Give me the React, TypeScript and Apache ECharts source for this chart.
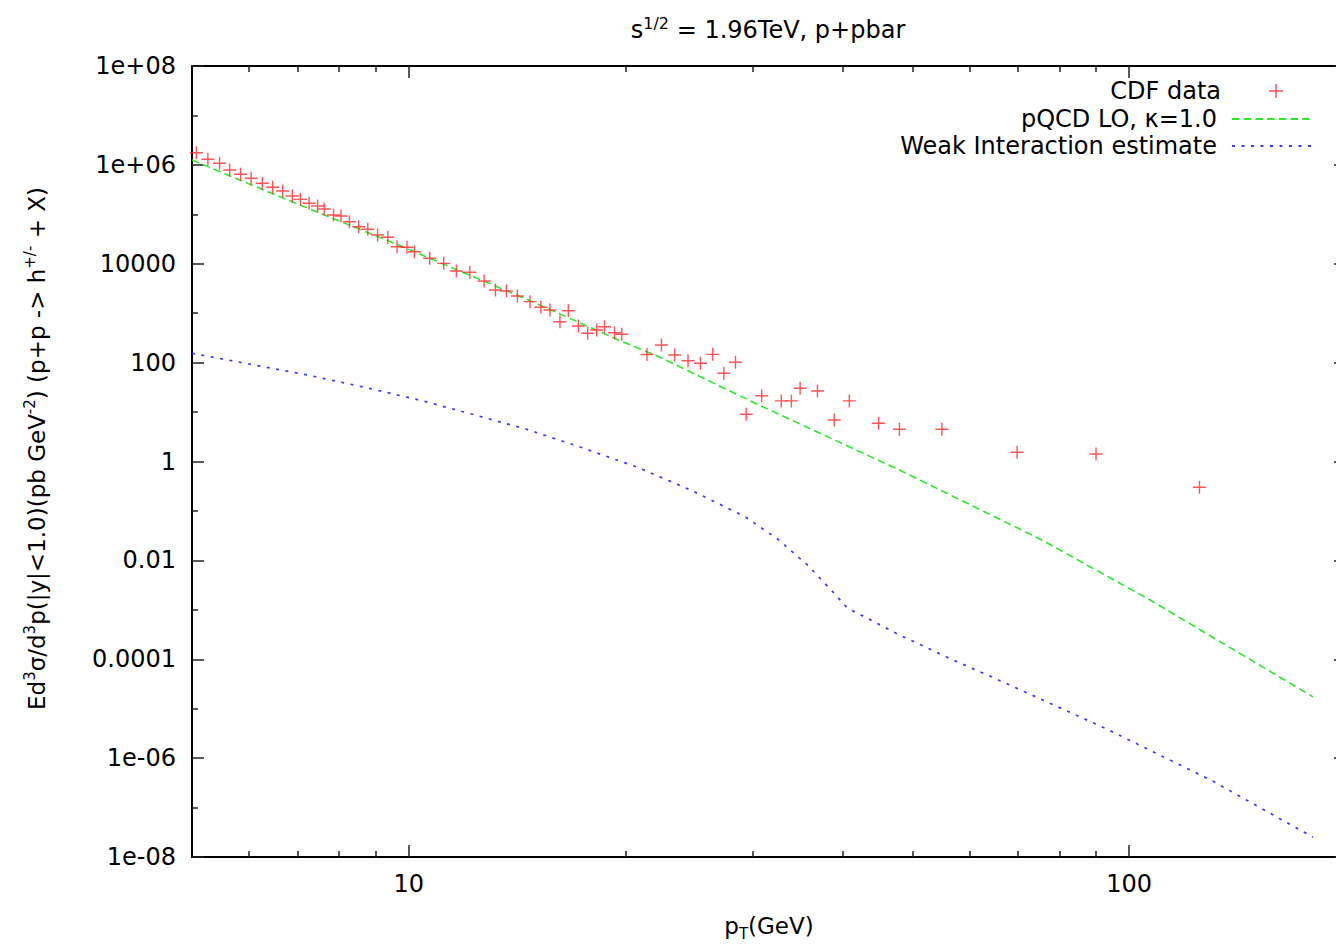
import React, { useEffect, useRef } from 'react';
import * as echarts from 'echarts';

// CDF data (p_T in GeV, cross section)
const cdfPt = [5.07, 5.26, 5.46, 5.64, 5.84, 6.04, 6.26, 6.47, 6.68, 6.89, 7.07, 7.27, 7.47, 7.63, 7.86, 8.05, 8.27, 8.52, 8.77, 9.05, 9.35, 9.63, 9.94, 10.18, 10.69, 11.18, 11.64, 12.15, 12.72, 13.19, 13.66, 14.15, 14.73, 15.25, 15.7, 16.21, 16.65, 17.19, 17.71, 18.23, 18.69, 19.3, 19.75, 21.41, 22.42, 23.39, 24.41, 25.4, 26.42, 27.37, 28.41, 29.4, 30.89, 32.89, 33.97, 34.93, 36.92, 38.95, 40.88, 44.89, 47.98, 54.95, 69.89, 89.95, 125.2];
const cdfValue = [1.76e6, 1.3e6, 1.08e6, 7.88e5, 6.45e5, 5.35e5, 4.24e5, 3.52e5, 2.96e5, 2.35e5, 2.01e5, 1.67e5, 1.47e5, 1.28e5, 9.69e4, 9.25e4, 7.09e4, 5.62e4, 4.98e4, 3.82e4, 3.43e4, 2.21e4, 2.15e4, 1.75e4, 1.29e4, 1.02e4, 7.14e3, 6.72e3, 4.48e3, 2.95e3, 2.81e3, 2.23e3, 1.71e3, 1.32e3, 1.16e3, 673, 1.12e3, 551, 392, 457, 533, 403, 374, 146, 227, 143, 109, 97, 147, 60.9, 102, 9.02, 21.4, 16.8, 16.8, 30.3, 26.7, 6.92, 16.8, 5.93, 4.48, 4.48, 1.54, 1.42, 0.301];

// pQCD LO curve
const pqcdPt = [5, 7, 9.75, 10.97, 14.65, 19.54, 22.23, 30.62, 47.97, 75.2, 106.9, 180];
const pqcdValue = [1.256e6, 1.62e5, 2.29e4, 1.1e4, 1.85e3, 287, 132, 13.9, 0.674, 0.0271, 1.58e-3, 1.73e-5];

// Weak interaction estimate curve
const weakPt = [5, 6.0, 7.23, 8.68, 10.46, 12.21, 14.57, 17.41, 20.84, 24.73, 29.28, 32.55, 35.76, 38.95, 40.66, 42.89, 47.98, 56.93, 64.04, 92.6, 129.7, 180];
const weakValue = [154.5, 93.9, 56.2, 31.7, 16.8, 9.15, 4.48, 1.9, 0.75, 0.257, 0.0766, 0.0267, 8.07e-3, 2.16e-3, 1.07e-3, 7.26e-4, 3.1e-4, 9.67e-5, 4.59e-5, 4.02e-6, 3.62e-7, 2.51e-8];

// Axis ticks
const xMajorTicks = [10, 100];
const xMajorLabels = ['10', '100'];
const xMinorTicks = [6, 7, 8, 9, 20, 30, 40, 50, 60, 70, 80, 90];
const yMajorTicks = [1e-8, 1e-6, 1e-4, 1e-2, 1, 1e2, 1e4, 1e6, 1e8];
const yMajorLabels = ['1e-08', '1e-06', '0.0001', '0.01', '1', '100', '10000', '1e+06', '1e+08'];
const yMinorTicks = [1e-7, 1e-5, 1e-3, 1e-1, 10, 1e3, 1e5, 1e7];

const seriesNames = ['CDF data', 'pQCD LO, \u03ba=1.0', 'Weak Interaction estimate'];

const FONT = "'DejaVu Sans', sans-serif";

function labelFor(ticks: number[], labels: string[], v: number): string {
  const i = ticks.findIndex((t) => Math.abs(Math.log10(t) - Math.log10(v)) < 1e-6);
  return i >= 0 ? labels[i] : '';
}

const rich = {
  b: { fontSize: 23, fontFamily: FONT, fontWeight: 'normal', color: '#000', lineHeight: 30 },
  sup: { fontSize: 15, fontFamily: FONT, fontWeight: 'normal', color: '#000', lineHeight: 14, verticalAlign: 'top' },
  sub: { fontSize: 15, fontFamily: FONT, fontWeight: 'normal', color: '#000', lineHeight: 14, verticalAlign: 'bottom' },
};

const richTitle = {
  b: { fontSize: 24, fontFamily: FONT, fontWeight: 'normal', color: '#000', lineHeight: 30 },
  sup: { fontSize: 16, fontFamily: FONT, fontWeight: 'normal', color: '#000', lineHeight: 14, verticalAlign: 'top' },
};

const PLUS = 'path://M0,12.5H28V15.5H0Z M12.5,0H15.5V28H12.5Z';

export default function App() {
  const ref = useRef<HTMLDivElement>(null);
  useEffect(() => {
    if (!ref.current) return;
    const chart = echarts.init(ref.current, null, { renderer: 'svg' });
    const frameLine = { show: true, onZero: false, lineStyle: { color: '#000', width: 2 } };
    const noLine = { show: false, onZero: false };
    const tickStyle = { color: '#222', width: 1.5 };
    const xBase = { type: 'log', logBase: 10, min: 5, max: 200, splitLine: { show: false }, minorTick: { show: false } };
    const yBase = { type: 'log', logBase: 10, min: 1e-8, max: 1e8, splitLine: { show: false }, minorTick: { show: false } };

    const legendTextStyle = { fontSize: 24, fontFamily: FONT, color: '#000', padding: [0, 10, 0, 0] };
    const legendCommon = {
      orient: 'horizontal',
      padding: 0,
      align: 'right',
      itemWidth: 80,
      itemHeight: 14,
      itemGap: 0,
      selectedMode: false,
      textStyle: legendTextStyle,
    };

    const option: any = {
      animation: false,
      backgroundColor: '#fff',
      title: {
        text: '{b|s}{sup|1/2}{b| = 1.96TeV, p+pbar}',
        left: 768,
        textAlign: 'center',
        top: 15,
        padding: 0,
        textStyle: { fontWeight: 'normal', rich: richTitle },
      },
      grid: { left: 192, right: -10, top: 66, bottom: 87, outerBoundsMode: 'none', containLabel: false },
      legend: [
        { ...legendCommon, data: [seriesNames[0]], right: 53, top: 79 },
        { ...legendCommon, data: [seriesNames[1]], right: 23, top: 107, itemStyle: { opacity: 0 } },
        { ...legendCommon, data: [seriesNames[2]], right: 23, top: 134, itemStyle: { opacity: 0 } },
      ],
      xAxis: [
        {
          ...xBase,
          position: 'bottom',
          axisLine: frameLine,
          axisTick: { inside: true, length: 12, customValues: xMajorTicks, lineStyle: tickStyle },
          axisLabel: {
            customValues: xMajorTicks,
            formatter: (v: number) => labelFor(xMajorTicks, xMajorLabels, v),
            fontSize: 24,
            fontFamily: FONT,
            color: '#000',
            margin: 15,
          },
          name: '{b|p}{sub|T}{b|(GeV)}',
          nameLocation: 'middle',
          nameGap: 54,
          nameTextStyle: { rich },
        },
        {
          ...xBase,
          position: 'bottom',
          axisLine: noLine,
          axisTick: { inside: true, length: 6, customValues: xMinorTicks, lineStyle: tickStyle },
          axisLabel: { show: false },
        },
        {
          ...xBase,
          position: 'top',
          axisLine: frameLine,
          axisTick: { inside: true, length: 12, customValues: xMajorTicks, lineStyle: tickStyle },
          axisLabel: { show: false },
        },
        {
          ...xBase,
          position: 'top',
          axisLine: noLine,
          axisTick: { inside: true, length: 6, customValues: xMinorTicks, lineStyle: tickStyle },
          axisLabel: { show: false },
        },
      ],
      yAxis: [
        {
          ...yBase,
          position: 'left',
          axisLine: frameLine,
          axisTick: { inside: true, length: 12, customValues: yMajorTicks, lineStyle: tickStyle },
          axisLabel: {
            customValues: yMajorTicks,
            formatter: (v: number) => labelFor(yMajorTicks, yMajorLabels, v),
            fontSize: 24,
            fontFamily: FONT,
            color: '#000',
            margin: 16,
          },
          name:
            '{b|Ed}{sup|3}{b|\u03c3/d}{sup|3}{b|p(|y|<1.0)(pb GeV}{sup|-2}{b|) (p+p -> h}{sup|+/-}{b| + X)}',
          nameLocation: 'middle',
          nameGap: 140,
          nameTextStyle: { rich, padding: [0, 0, 0, 26] },
        },
        {
          ...yBase,
          position: 'left',
          axisLine: noLine,
          axisTick: { inside: true, length: 6, customValues: yMinorTicks, lineStyle: tickStyle },
          axisLabel: { show: false },
        },
        {
          ...yBase,
          position: 'right',
          axisLine: frameLine,
          axisTick: { inside: true, length: 12, customValues: yMajorTicks, lineStyle: tickStyle },
          axisLabel: { show: false },
        },
        {
          ...yBase,
          position: 'right',
          axisLine: noLine,
          axisTick: { inside: true, length: 6, customValues: yMinorTicks, lineStyle: tickStyle },
          axisLabel: { show: false },
        },
      ],
      series: [
        {
          name: seriesNames[0],
          type: 'scatter',
          xAxisIndex: 0,
          yAxisIndex: 0,
          symbol: PLUS,
          symbolSize: 13,
          itemStyle: { color: '#ff2a2a' },
          data: cdfPt.map((p, i) => [p, cdfValue[i]]),
          z: 3,
        },
        {
          name: seriesNames[1],
          type: 'line',
          xAxisIndex: 0,
          yAxisIndex: 0,
          symbol: 'none',
          showSymbol: false,
          lineStyle: { color: '#2ee82e', width: 1.6, type: [7.5, 4.2] },
          itemStyle: { color: '#2ee82e' },
          data: pqcdPt.map((p, i) => [p, pqcdValue[i]]),
          z: 2,
        },
        {
          name: seriesNames[2],
          type: 'line',
          xAxisIndex: 0,
          yAxisIndex: 0,
          symbol: 'none',
          showSymbol: false,
          lineStyle: { color: '#3a3aff', width: 1.7, type: [3, 6.5] },
          itemStyle: { color: '#3a3aff' },
          data: weakPt.map((p, i) => [p, weakValue[i]]),
          z: 2,
        },
      ],
    };
    chart.setOption(option);
    return () => chart.dispose();
  }, []);
  return (
    <div
      ref={ref}
      style={{ position: 'absolute', left: 0, top: 0, width: 1336, height: 944, background: '#fff' }}
    />
  );
}
